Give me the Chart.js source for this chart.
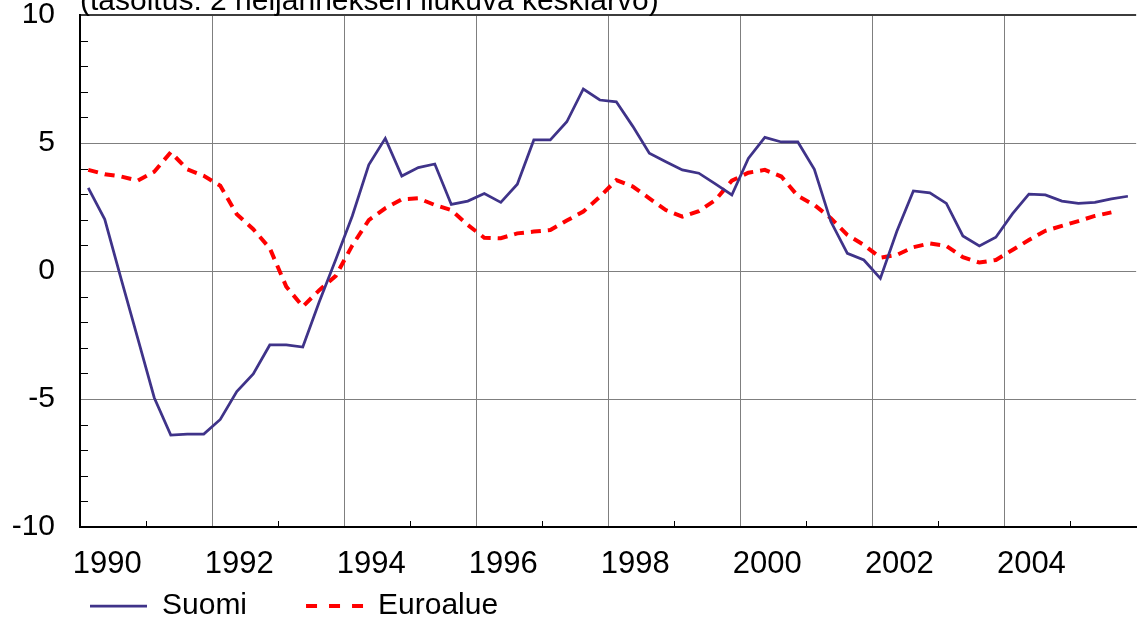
<!DOCTYPE html>
<html lang="fi">
<head>
<meta charset="utf-8">
<title>Suomi ja euroalue</title>
<script src="https://cdn.jsdelivr.net/npm/chart.js@4"></script>
<style>
  html, body { margin: 0; padding: 0; overflow: hidden; background: #fff; }
  /* otsikon yläosa jää ikkunan ulkopuolelle kuten alkuperäisessä */
  #kaavio { display: block; margin-top: -25px; }
</style>
</head>
<body>
<canvas id="kaavio" width="1150" height="644"></canvas>
<script>
// Otsikko (yläreuna leikkautuu)
const otsikko = '(tasoitus: 2 neljänneksen liukuva keskiarvo)';

// Neljännekset 1990Q1 - 2005Q4
const vuodet = [1990, 1991, 1992, 1993, 1994, 1995, 1996, 1997,
                1998, 1999, 2000, 2001, 2002, 2003, 2004, 2005];
const neljannekset = vuodet.flatMap(v => ['Q1', 'Q2', 'Q3', 'Q4'].map(q => v + q));

// Akselin vuositunnukset (joka toinen vuosi)
const vuosiTunnukset = ['1990', '1992', '1994', '1996', '1998', '2000', '2002', '2004'];

// Suomi, %
const suomi = [
    3.25, 2.02, -0.33, -2.63, -4.95, -6.41, -6.37, -6.37,
    -5.80, -4.71, -4.02, -2.89, -2.89, -2.97, -1.20, 0.45,
    2.15, 4.15, 5.18, 3.71, 4.04, 4.18, 2.60, 2.73,
    3.03, 2.68, 3.39, 5.12, 5.12, 5.83, 7.11, 6.68,
    6.61, 5.65, 4.60, 4.27, 3.95, 3.82, 3.40, 2.97,
    4.40, 5.22, 5.04, 5.04, 3.97, 1.93, 0.69, 0.43,
    -0.29, 1.55, 3.13, 3.05, 2.64, 1.37, 0.98, 1.32,
    2.23, 3.00, 2.97, 2.73, 2.64, 2.68, 2.82, 2.92
];

// Euroalue, %
const euroalue = [
    3.95, 3.78, 3.69, 3.53, 3.88, 4.64, 3.97, 3.72,
    3.33, 2.22, 1.63, 0.89, -0.61, -1.39, -0.75, -0.19,
    1.00, 1.99, 2.45, 2.80, 2.84, 2.58, 2.38, 1.80,
    1.30, 1.28, 1.47, 1.54, 1.60, 1.97, 2.32, 2.90,
    3.55, 3.30, 2.84, 2.38, 2.12, 2.34, 2.77, 3.53,
    3.84, 3.95, 3.69, 2.93, 2.58, 2.06, 1.41, 1.02,
    0.52, 0.63, 0.93, 1.08, 0.98, 0.54, 0.33, 0.43,
    0.82, 1.21, 1.57, 1.76, 1.95, 2.15, 2.29, null
];

const fontti = { family: '"Liberation Sans", Arial, sans-serif', size: 30, lineHeight: 1 };

// Pienet sisäänpäin osoittavat jakoviivat
const pienetTikit = {
    id: 'pienetTikit',
    beforeDatasetsDraw(chart) {
        const { ctx, chartArea, scales } = chart;
        const x = scales.x;
        const y = scales.y;
        ctx.save();
        ctx.strokeStyle = '#000';
        ctx.lineWidth = 1;
        ctx.beginPath();
        for (let v = -9; v <= 9; v++) {
            if (v % 5 === 0) continue;
            const py = Math.round(y.getPixelForValue(v)) + 0.5;
            ctx.moveTo(chartArea.left, py);
            ctx.lineTo(chartArea.left + 8, py);
        }
        const puoli = (x.getPixelForValue(1) - x.getPixelForValue(0)) / 2;
        for (let i = 4; i < neljannekset.length; i += 8) {
            const px = Math.round(x.getPixelForValue(i) - puoli) + 0.5;
            ctx.moveTo(px, chartArea.bottom);
            ctx.lineTo(px, chartArea.bottom - 6);
        }
        ctx.stroke();
        ctx.restore();
    }
};

// Selite vasemmalle alas (välistys = labels.padding)
const selitteenPaikka = {
    id: 'selitteenPaikka',
    afterLayout(chart) {
        const l = chart.legend;
        l.left = 31;
        l.top = chart.height - 87;
    }
};

// Selitteen viivat: paksuus ja katkoviiva aineistosta
const selitteet = chart => Chart.defaults.plugins.legend.labels.generateLabels(chart).map((it, i) => {
    const ds = chart.data.datasets[i];
    return { ...it, lineWidth: ds.borderWidth, lineDash: ds.borderDash ? [11, 12] : [] };
});

new Chart(document.getElementById('kaavio'), {
    type: 'line',
    data: {
        labels: neljannekset,
        datasets: [{
            label: 'Suomi',
            data: suomi,
            borderColor: '#3f3389',
            backgroundColor: 'transparent',
            borderWidth: 2.75,
            pointRadius: 0,
            tension: 0
        }, {
            label: 'Euroalue',
            data: euroalue,
            borderColor: '#ff0000',
            backgroundColor: 'transparent',
            borderWidth: 4,
            borderDash: [10, 7],
            pointRadius: 0,
            tension: 0
        }]
    },
    options: {
        responsive: false,
        animation: false,
        layout: { padding: 0 },
        plugins: {
            title: {
                display: true,
                text: otsikko,
                align: 'start',
                fullSize: false,
                color: '#000',
                font: { ...fontti, weight: 'normal' },
                padding: { top: 0, bottom: -2 }
            },
            legend: {
                position: 'bottom',
                align: 'start',
                maxHeight: 42,
                labels: {
                    color: '#000',
                    font: fontti,
                    usePointStyle: true,
                    pointStyle: 'line',
                    pointStyleWidth: 57,
                    boxHeight: 10,
                    padding: 59,
                    generateLabels: selitteet
                }
            },
            tooltip: { enabled: false }
        },
        scales: {
            x: {
                type: 'category',
                offset: true,
                grid: {
                    offset: true,
                    drawTicks: false,
                    color: c => c.index % 8 === 0 ? '#7f7f7f' : 'transparent'
                },
                border: { color: '#000', width: 2 },
                ticks: {
                    autoSkip: false,
                    maxRotation: 0,
                    padding: 22,
                    labelOffset: 19,
                    color: '#000',
                    font: { ...fontti, size: 31 },
                    callback: (v, i) => i % 8 === 0 ? vuosiTunnukset[i / 8] : ''
                },
                afterFit: s => { s.height = 50; }
            },
            y: {
                min: -10,
                max: 10,
                ticks: {
                    stepSize: 5,
                    padding: 25,
                    color: '#000',
                    font: fontti
                },
                grid: {
                    drawTicks: false,
                    color: c => c.tick.value === 10 ? '#3c3c3c' : (c.tick.value === -10 ? 'transparent' : '#7f7f7f'),
                    lineWidth: c => c.tick.value === 10 ? 2 : 1
                },
                border: { color: '#000', width: 2 },
                afterFit: s => { s.width = 80; }
            }
        }
    },
    plugins: [pienetTikit, selitteenPaikka]
});
</script>
</body>
</html>
